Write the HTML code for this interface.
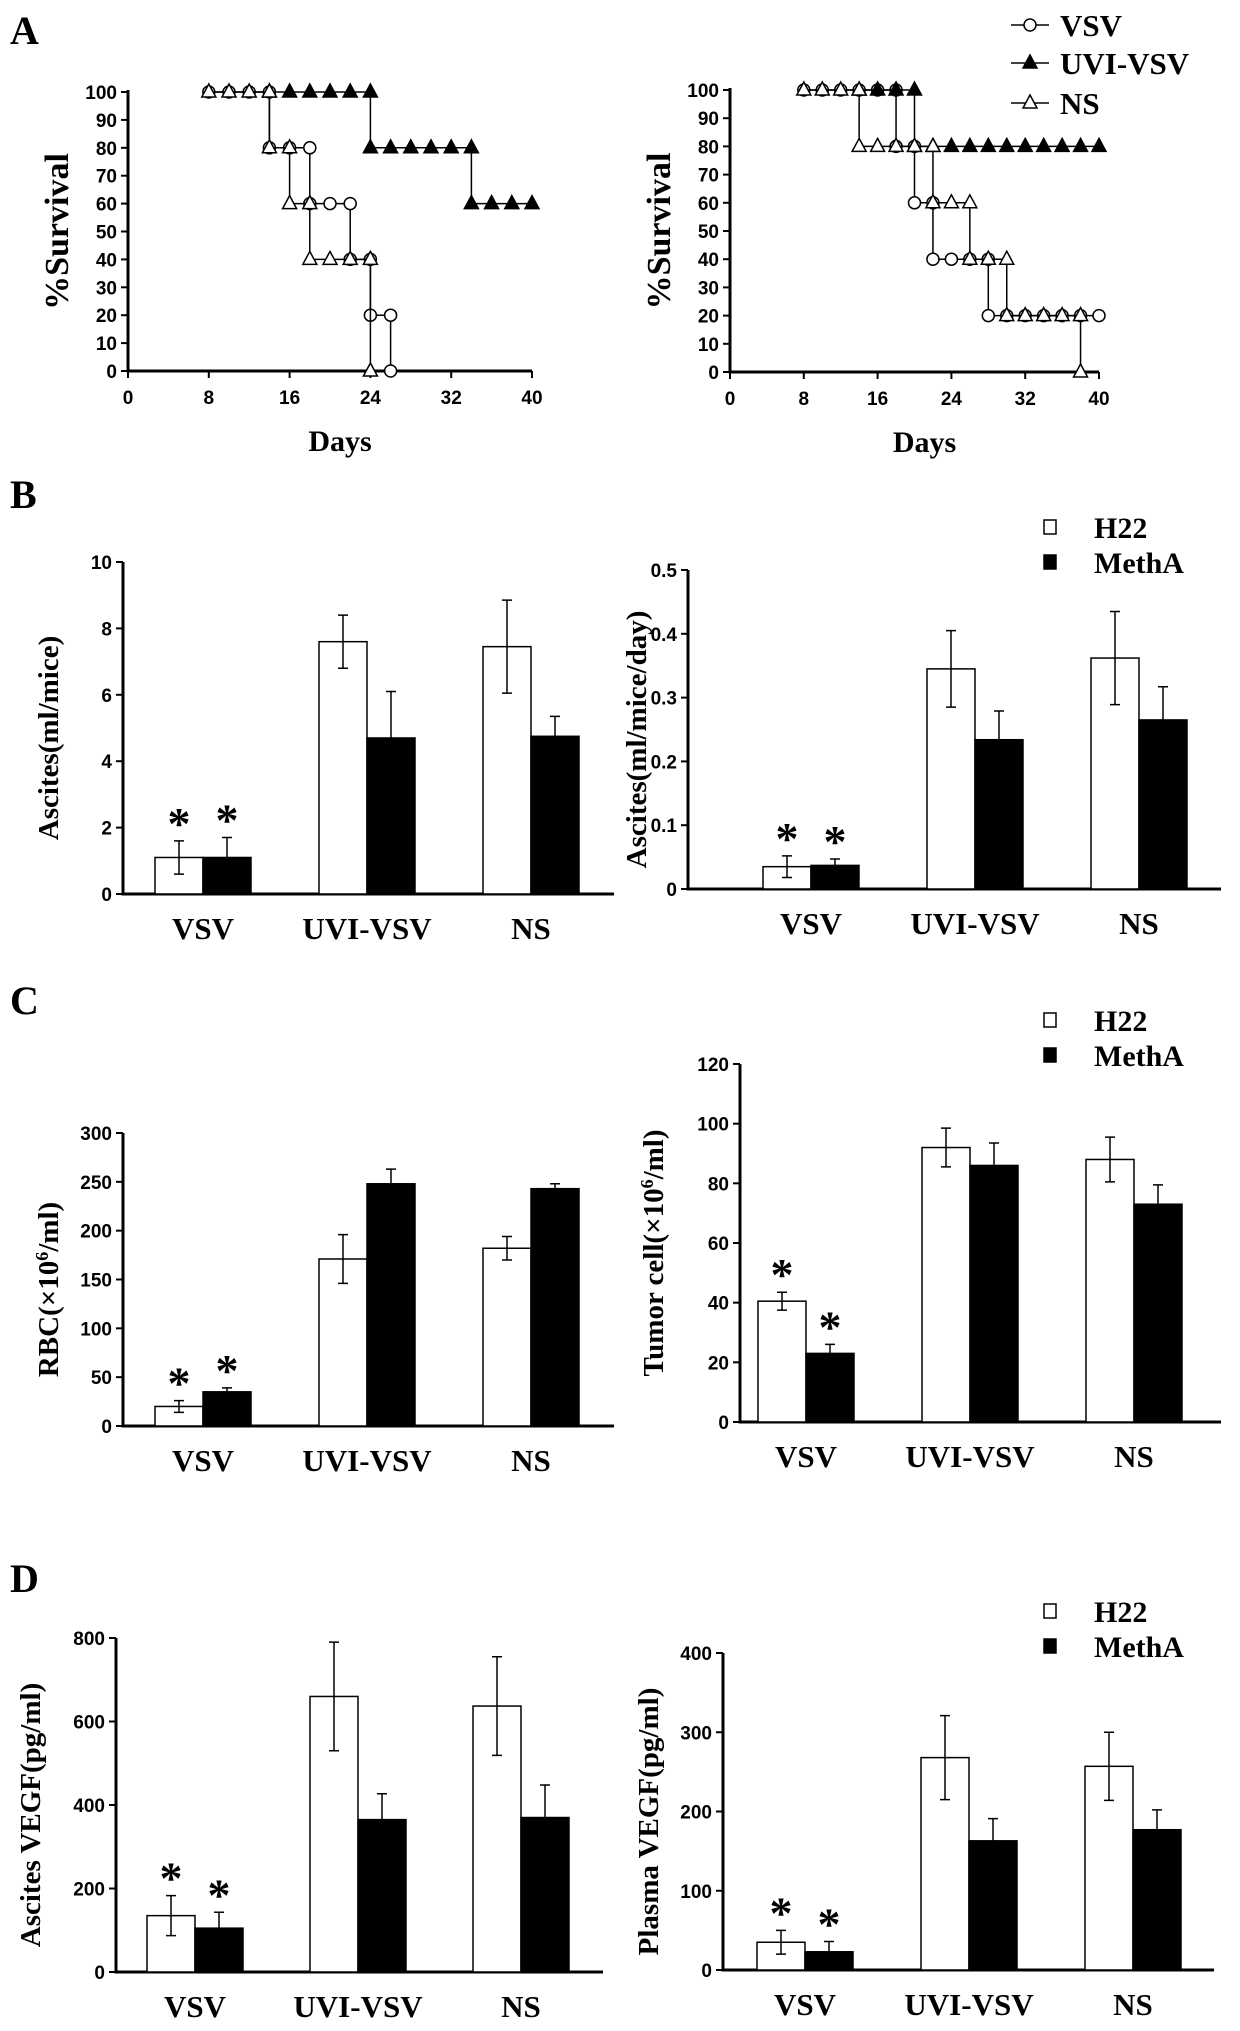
<!DOCTYPE html>
<html><head><meta charset="utf-8"><style>
html,body{margin:0;padding:0;background:#fff;}
svg{display:block;}
.tk{font-family:"Liberation Sans",sans-serif;font-weight:bold;font-size:19px;}
.ser{font-family:"Liberation Serif",serif;font-weight:bold;}
</style></head><body>
<svg id="fig" width="1240" height="2031" viewBox="0 0 1240 2031" xmlns="http://www.w3.org/2000/svg">
<text class="ser" x="10" y="44" font-size="40">A</text>
<text class="ser" x="10" y="508" font-size="40">B</text>
<text class="ser" x="10" y="1014" font-size="40">C</text>
<text class="ser" x="10" y="1592" font-size="40">D</text>
</svg>
<script>
// ---- Survival data (panel A) ----
const daysTicks = [0, 8, 16, 24, 32, 40];
const survTicks = [0, 10, 20, 30, 40, 50, 60, 70, 80, 90, 100];
const leftVSVDays = [8,10,12,14,14,16,18,18,20,22,22,24,24,26,26];
const leftVSVSurv = [100,100,100,100,80,80,80,60,60,60,40,40,20,20,0];
const leftUVIDays = [14,16,18,20,22,24,24,26,28,30,32,34,34,36,38,40];
const leftUVISurv = [100,100,100,100,100,100,80,80,80,80,80,80,60,60,60,60];
const leftNSDays = [8,10,12,14,14,16,16,18,18,20,22,24,24];
const leftNSSurv = [100,100,100,100,80,80,60,60,40,40,40,40,0];
const rightVSVDays = [8,10,12,14,16,18,18,20,20,22,22,24,26,28,28,30,32,34,36,38,40];
const rightVSVSurv = [100,100,100,100,100,100,80,80,60,60,40,40,40,40,20,20,20,20,20,20,20];
const rightUVIDays = [14,16,18,20,20,22,24,26,28,30,32,34,36,38,40];
const rightUVISurv = [100,100,100,100,80,80,80,80,80,80,80,80,80,80,80];
const rightNSDays = [8,10,12,14,14,16,18,20,22,22,24,26,26,28,30,30,32,34,36,38,38];
const rightNSSurv = [100,100,100,100,80,80,80,80,80,60,60,60,40,40,40,20,20,20,20,20,0];

// ---- Bar data ----
const groups = ["VSV", "UVI-VSV", "NS"];
const bLeftH22 = [1.1, 7.6, 7.45], bLeftH22Err = [0.5, 0.8, 1.4];
const bLeftMeth = [1.1, 4.7, 4.75], bLeftMethErr = [0.6, 1.4, 0.6];
const bLeftTicks = [0, 2, 4, 6, 8, 10];
const bRightH22 = [0.035, 0.345, 0.362], bRightH22Err = [0.017, 0.06, 0.073];
const bRightMeth = [0.037, 0.234, 0.265], bRightMethErr = [0.01, 0.045, 0.052];
const bRightTicks = [0, 0.1, 0.2, 0.3, 0.4, 0.5];
const cLeftH22 = [20, 171, 182], cLeftH22Err = [6, 25, 12];
const cLeftMeth = [35, 248, 243], cLeftMethErr = [4, 15, 5];
const cLeftTicks = [0, 50, 100, 150, 200, 250, 300];
const cRightH22 = [40.5, 92, 88], cRightH22Err = [3, 6.5, 7.5];
const cRightMeth = [23, 86, 73], cRightMethErr = [3, 7.5, 6.5];
const cRightTicks = [0, 20, 40, 60, 80, 100, 120];
const dLeftH22 = [135, 660, 637], dLeftH22Err = [48, 130, 118];
const dLeftMeth = [105, 365, 370], dLeftMethErr = [38, 62, 78];
const dLeftTicks = [0, 200, 400, 600, 800];
const dRightH22 = [35, 268, 257], dRightH22Err = [15, 53, 43];
const dRightMeth = [23, 163, 177], dRightMethErr = [13, 28, 25];
const dRightTicks = [0, 100, 200, 300, 400];

const NS = "http://www.w3.org/2000/svg";
const svg = document.getElementById("fig");
function mk(tag, attrs, parent) {
  const e = document.createElementNS(NS, tag);
  for (const k in attrs) e.setAttribute(k, attrs[k]);
  (parent || svg).appendChild(e);
  return e;
}
function txt(s, attrs, parent) { const t = mk("text", attrs, parent); t.textContent = s; return t; }

function survival(o) {
  const g = mk("g", {});
  
  
  const sx = d => o.x0 + (d / 40) * (o.x1 - o.x0);
  const sy = v => o.y0 - (v / 100) * (o.y0 - o.y1);
  const ax = mk("path", {d: `M${o.x0},${o.y1-2}V${o.y0}H${o.x1}`, stroke: "#000", "stroke-width": 3, fill: "none"}, g);
  
  
  survTicks.forEach(v => {
    mk("line", {x1: o.x0 - 7, x2: o.x0, y1: sy(v), y2: sy(v), stroke: "#000", "stroke-width": 2}, g);
    const t = txt(v, {x: o.x0 - 11, y: sy(v) + 7, "text-anchor": "end", class: "tk"}, g);
    
    
  });
  daysTicks.forEach(v => {
    mk("line", {x1: sx(v), x2: sx(v), y1: o.y0, y2: o.y0 + 7, stroke: "#000", "stroke-width": 2}, g);
    const t = txt(v, {x: sx(v), y: o.y0 + 33, "text-anchor": "middle", class: "tk"}, g);
    
    
  });
  const xt = txt("Days", {x: (o.x0 + o.x1) / 2 + 10, y: o.y0 + 80, "text-anchor": "middle", class: "ser", "font-size": 30}, g);
  
  
  const cy = (o.y0 + o.y1) / 2;
  const yt = txt("%Survival", {x: 0, y: 0, transform: `translate(${o.x0 - 60},${cy}) rotate(-90)`, "text-anchor": "middle", class: "ser", "font-size": 34}, g);
  
  
  o.series.forEach(s => {
    const sg = mk("g", {}, g);
    
    
    let d = "";
    s.days.forEach((dd, i) => { d += (i ? "L" : "M") + sx(dd) + "," + sy(s.surv[i]); });
    mk("path", {d, stroke: "#000", "stroke-width": 1.5, fill: "none"}, sg);
    s.days.forEach((dd, i) => {
      const x = sx(dd), y = sy(s.surv[i]);
      let m;
      if (s.marker === "circle") m = mk("circle", {cx: x, cy: y, r: 6, fill: "#fff", stroke: "#000", "stroke-width": 1.5}, sg);
      else m = mk("path", {d: `M${x},${y-8}L${x+7},${y+5}L${x-7},${y+5}Z`, fill: s.marker === "filled" ? "#000" : "#fff", stroke: "#000", "stroke-width": 1.5}, sg);
      
      
    });
  });
}
survival({name: "survival-chart-left", x0: 128, x1: 532, y0: 371, y1: 92, series: [
  {name: "series-vsv", marker: "circle", days: leftVSVDays, surv: leftVSVSurv},
  {name: "series-uvi-vsv", marker: "filled", days: leftUVIDays, surv: leftUVISurv},
  {name: "series-ns", marker: "open", days: leftNSDays, surv: leftNSSurv}]});
survival({name: "survival-chart-right", x0: 730, x1: 1099, y0: 372, y1: 90, series: [
  {name: "series-vsv", marker: "circle", days: rightVSVDays, surv: rightVSVSurv},
  {name: "series-uvi-vsv", marker: "filled", days: rightUVIDays, surv: rightUVISurv},
  {name: "series-ns", marker: "open", days: rightNSDays, surv: rightNSSurv}]});

// survival legend
[["VSV", "circle", 25], ["UVI-VSV", "filled", 63], ["NS", "open", 103]].forEach(l => {
  const g = mk("g", {});
  
  
  const y = l[2];
  mk("line", {x1: 1011, x2: 1049, y1: y, y2: y, stroke: "#000", "stroke-width": 1.5}, g);
  const x = 1030;
  if (l[1] === "circle") mk("circle", {cx: x, cy: y, r: 6, fill: "#fff", stroke: "#000", "stroke-width": 1.5}, g);
  else mk("path", {d: `M${x},${y-8}L${x+7},${y+5}L${x-7},${y+5}Z`, fill: l[1] === "filled" ? "#000" : "#fff", stroke: "#000", "stroke-width": 1.5}, g);
  txt(l[0], {x: 1060, y: y + 11, class: "ser", "font-size": 31}, g);
});

function bars(o) {
  const g = mk("g", {});
  
  
  const sy = v => o.y0 - (v / o.max) * (o.y0 - o.y1);
  const ax = mk("path", {d: `M${o.x0},${o.y1}V${o.y0}H${o.x1}`, stroke: "#000", "stroke-width": 3, fill: "none"}, g);
  
  
  o.ticks.forEach(v => {
    mk("line", {x1: o.x0 - 7, x2: o.x0, y1: sy(v), y2: sy(v), stroke: "#000", "stroke-width": 2}, g);
    const t = txt(v, {x: o.x0 - 11, y: sy(v) + 7, "text-anchor": "end", class: "tk"}, g);
    
    
  });
  const cy = (o.y0 + o.y1) / 2;
  const yt = txt("", {x: 0, y: 0, transform: `translate(${o.titleX},${cy + 10}) rotate(-90)`, "text-anchor": "middle", class: "ser", "font-size": 29}, g);
  
  
  if (o.sup) {
    yt.appendChild(document.createTextNode(o.title[0]));
    const ts = document.createElementNS(NS, "tspan"); ts.setAttribute("dy", "-10"); ts.setAttribute("font-size", "18"); ts.textContent = "6"; yt.appendChild(ts);
    const ts2 = document.createElementNS(NS, "tspan"); ts2.setAttribute("dy", "10"); ts2.textContent = o.title[1]; yt.appendChild(ts2);
  } else yt.textContent = o.title;
  const bw = 48;
  groups.forEach((c, i) => {
    const cx = o.c0 + i * o.step;
    const lab = txt(c, {x: cx, y: o.y0 + 45, "text-anchor": "middle", class: "ser", "font-size": 31}, g);
    
    
    [[o.h22, o.h22e, "#fff", cx - bw / 2, "bar-h22"], [o.meth, o.methe, "#000", cx + bw / 2, "bar-metha"]].forEach(s => {
      const v = s[0][i], e = s[1][i], bx = s[3];
      const r = mk("rect", {x: bx - bw / 2, y: sy(v), width: bw, height: o.y0 - sy(v), fill: s[2], stroke: "#000", "stroke-width": 1.5}, g);
      
      
      mk("path", {d: `M${bx},${sy(v + e)}V${sy(v - e)}M${bx - 5},${sy(v + e)}H${bx + 5}M${bx - 5},${sy(v - e)}H${bx + 5}`, stroke: "#000", "stroke-width": 1.5, fill: "none"}, g);
      if (i === 0) {
        const st = txt("*", {x: bx, y: sy(v + e) - 2, "text-anchor": "middle", class: "ser", "font-size": 46}, g);
        
        
      }
    });
  });
  if (o.legendY) {
    [["H22", "#fff", o.legendY], ["MethA", "#000", o.legendY + 35]].forEach(l => {
      const lg = mk("g", {});
      
      
      mk("rect", {x: 1044, y: l[2] - 7, width: 12, height: 14, fill: l[1], stroke: "#000", "stroke-width": 1.5}, lg);
      txt(l[0], {x: 1094, y: l[2] + 11, class: "ser", "font-size": 30}, lg);
    });
  }
}
bars({name: "chart-ascites-volume", x0: 123, x1: 614, y0: 894, y1: 562, max: 10, ticks: bLeftTicks, c0: 203, step: 164,
  h22: bLeftH22, h22e: bLeftH22Err, meth: bLeftMeth, methe: bLeftMethErr, title: "Ascites(ml/mice)", titleX: 58});
bars({name: "chart-ascites-rate", x0: 688, x1: 1221, y0: 889, y1: 570, max: 0.5, ticks: bRightTicks, c0: 811, step: 164,
  h22: bRightH22, h22e: bRightH22Err, meth: bRightMeth, methe: bRightMethErr, title: "Ascites(ml/mice/day)", titleX: 646, legendY: 527});
bars({name: "chart-rbc", x0: 123, x1: 614, y0: 1426, y1: 1133, max: 300, ticks: cLeftTicks, c0: 203, step: 164,
  h22: cLeftH22, h22e: cLeftH22Err, meth: cLeftMeth, methe: cLeftMethErr, title: ["RBC(×10", "/ml)"], sup: true, titleX: 58});
bars({name: "chart-tumor-cell", x0: 740, x1: 1221, y0: 1422, y1: 1064, max: 120, ticks: cRightTicks, c0: 806, step: 164,
  h22: cRightH22, h22e: cRightH22Err, meth: cRightMeth, methe: cRightMethErr, title: ["Tumor cell(×10", "/ml)"], sup: true, titleX: 663, legendY: 1020});
bars({name: "chart-ascites-vegf", x0: 116, x1: 603, y0: 1972, y1: 1638, max: 800, ticks: dLeftTicks, c0: 195, step: 163,
  h22: dLeftH22, h22e: dLeftH22Err, meth: dLeftMeth, methe: dLeftMethErr, title: "Ascites VEGF(pg/ml)", titleX: 40});
bars({name: "chart-plasma-vegf", x0: 723, x1: 1214, y0: 1970, y1: 1653, max: 400, ticks: dRightTicks, c0: 805, step: 164,
  h22: dRightH22, h22e: dRightH22Err, meth: dRightMeth, methe: dRightMethErr, title: "Plasma VEGF(pg/ml)", titleX: 658, legendY: 1611});
</script>
</body></html>
